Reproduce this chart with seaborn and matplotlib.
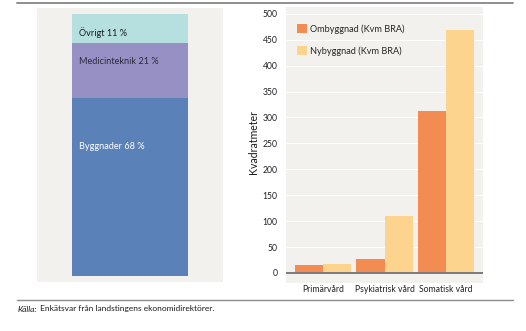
import matplotlib
matplotlib.use("Agg")
import matplotlib.pyplot as plt
from matplotlib.lines import Line2D
from matplotlib.patches import Patch
import numpy as np
import pandas as pd
import seaborn as sns

# ---------------- data ----------------
cost_labels = ["Byggnader", "Medicinteknik", "Övrigt"]
cost_shares = [68, 21, 11]

categories = ["Primärvård", "Psykiatrisk vård", "Somatisk vård"]
series_names = ["Ombyggnad (Kvm BRA)", "Nybyggnad (Kvm BRA)"]
ombyggnad = [15, 27, 313]
nybyggnad = [17, 110, 469]
y_ticks = [0, 50, 100, 150, 200, 250, 300, 350, 400, 450, 500]

source_label = "Källa:"
source_text = " Enkätsvar från landstingens ekonomidirektörer."
ylabel = "Kvadratmeter"

# ---------------- style ----------------
sns.set_theme(style="white")
plt.rcParams["font.family"] = ["Lato", "DejaVu Sans"]

W, H = 526, 331
fig = plt.figure(figsize=(W / 100, H / 100), dpi=100)
fig.patch.set_facecolor("white")

def rect(x0, y0, x1, y1):
    # pixel box (top-left origin) -> figure fraction
    return [x0 / W, 1 - y1 / H, (x1 - x0) / W, (y1 - y0) / H]

panel = "#F2F1EE"
cost_colors = ["#5A82B8", "#9790C4", "#B5E0DF"]
bar_colors = ["#F28C52", "#FDD48E"]
line_col = "#8E8E8E"

# ---------------- left: stacked share bar ----------------
axl = fig.add_axes(rect(37, 8, 223, 282))
axl.set_facecolor(panel)
cum = np.cumsum(cost_shares)
# draw from the top layer down so lower layers overlay
for i in reversed(range(len(cost_shares))):
    sns.barplot(x=["all"], y=[cum[i]], color=cost_colors[i], width=0.624,
                saturation=1, ax=axl, linewidth=0)
axl.set_xlim(-0.5, 0.5)
axl.set_ylim(-2.3, 102.3)
for s in axl.spines.values():
    s.set_visible(False)
axl.set_xticks([])
axl.set_yticks([])
axl.set_xlabel("")
axl.set_ylabel("")

label_offsets = [18.4, 7.3, 6.9]
text_colors = ["white", "#2a2a3a", "#1a1a1a"]
for i, (lab, val) in enumerate(zip(cost_labels, cost_shares)):
    axl.text(-0.5 + (79 - 37) / 186, cum[i] - label_offsets[i], f"{lab} {val} %",
             ha="left", va="center", fontsize=6.6, color=text_colors[i])

# ---------------- right: grouped bars ----------------
axr = fig.add_axes(rect(286, 7, 483, 283))
axr.set_facecolor(panel)
df = pd.DataFrame({
    "Kategori": categories * 2,
    "Typ": [series_names[0]] * len(categories) + [series_names[1]] * len(categories),
    "Värde": ombyggnad + nybyggnad,
})
sns.barplot(data=df, x="Kategori", y="Värde", hue="Typ", palette=bar_colors,
            width=0.91, saturation=1, ax=axr, linewidth=0, zorder=3)
axr.set_xlim(-0.6, 2.6)
axr.set_ylim(-19.3, 513)
axr.set_yticks(y_ticks)
axr.set_yticklabels([str(t) for t in y_ticks])
for t in y_ticks[1:]:
    axr.axhline(t, color="white", lw=0.7, zorder=1)
axr.axhline(0, color="#7a7a7a", lw=1.4, zorder=4)
for s in axr.spines.values():
    s.set_visible(False)
axr.tick_params(axis="both", length=0, labelsize=6.2, colors="#222222")
axr.tick_params(axis="y", pad=6)
axr.tick_params(axis="x", pad=1.5)
axr.set_xlabel("")
axr.set_ylabel("")
axr.grid(False)

handles = [Patch(facecolor=c, edgecolor="none") for c in bar_colors]
axr.legend(handles, series_names, loc="upper left",
           bbox_to_anchor=(0.056, 0.938), frameon=False, fontsize=6.6,
           handlelength=1.1, handleheight=1.1, handletextpad=0.35,
           labelspacing=1.35, borderpad=0, borderaxespad=0)

fig.text(254 / W, 1 - 142 / H, ylabel, rotation=90, ha="center", va="center",
         fontsize=7.6, color="#1a1a1a")

# ---------------- rules & source ----------------
fig.add_artist(Line2D([17 / W, 513 / W], [1 - 3 / H, 1 - 3 / H], color=line_col, lw=1.4))
fig.add_artist(Line2D([17 / W, 513 / W], [1 - 300 / H, 1 - 300 / H], color=line_col, lw=1.0))

t1 = fig.text(18 / W, 1 - 309 / H, source_label, style="italic", fontsize=6,
              ha="left", va="center", color="#1a1a1a")
fig.canvas.draw()
bb = t1.get_window_extent(fig.canvas.get_renderer())
fig.text(bb.x1 / W, 1 - 309 / H, source_text, fontsize=6, ha="left",
         va="center", color="#1a1a1a")

fig.savefig("out.png", dpi=100)
